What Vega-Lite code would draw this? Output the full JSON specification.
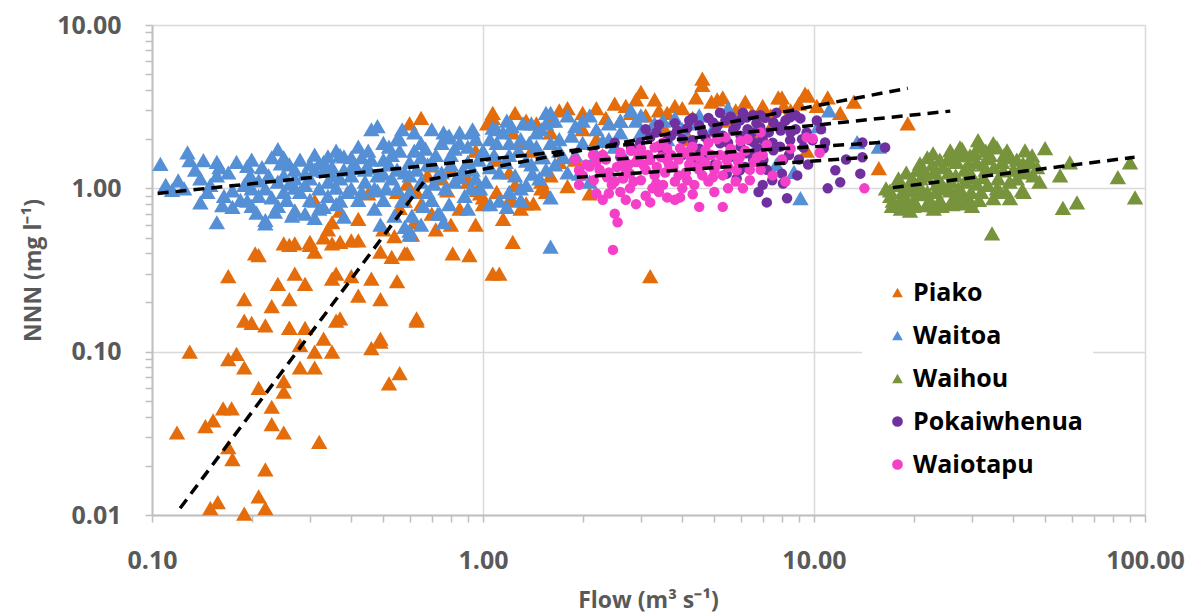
{
  "$schema": "https://vega.github.io/schema/vega-lite/v6.json",
  "width": 993,
  "height": 490,
  "autosize": {"type": "none"},
  "padding": {"left": 152, "top": 25, "right": 54, "bottom": 101},
  "background": "white",
  "config": {
    "font": "Open Sans",
    "view": {"stroke": null},
    "axis": {
      "labelFont": "Open Sans", "labelFontWeight": "bold", "labelFontSize": 25, "labelColor": "#595959",
      "titleFont": "Open Sans", "titleFontWeight": "bold", "titleFontSize": 23, "titleColor": "#595959",
      "domainColor": "#BFBFBF", "domainWidth": 2, "tickColor": "#BFBFBF", "tickWidth": 1.5, "tickSize": 7,
      "gridColor": "#D9D9D9", "gridWidth": 1.5, "labelOverlap": false, "labelFlush": false
    }
  },
  "datasets": {
    "trend": [
      {"fit": "Piako", "flow": 0.1216, "nnn": 0.011},
      {"fit": "Piako", "flow": 0.668, "nnn": 1.12},
      {"fit": "Piako", "flow": 19.2, "nnn": 4.1},
      {"fit": "Waitoa", "flow": 0.104, "nnn": 0.93},
      {"fit": "Waitoa", "flow": 25.8, "nnn": 2.97},
      {"fit": "Pokaiwhenua", "flow": 2.25, "nnn": 1.49},
      {"fit": "Pokaiwhenua", "flow": 16.1, "nnn": 1.91},
      {"fit": "Waiotapu", "flow": 1.92, "nnn": 1.17},
      {"fit": "Waiotapu", "flow": 14.5, "nnn": 1.55},
      {"fit": "Waihou", "flow": 17.3, "nnn": 1.01},
      {"fit": "Waihou", "flow": 93, "nnn": 1.55}
    ],
    "points": [
      {"river":"Piako","flow":0.119,"nnn":0.032},{"river":"Piako","flow":0.13,"nnn":0.10},{"river":"Piako","flow":0.145,"nnn":0.035},{"river":"Piako","flow":0.15,"nnn":0.011},{"river":"Piako","flow":0.158,"nnn":0.012},{"river":"Piako","flow":0.17,"nnn":0.09},{"river":"Piako","flow":0.18,"nnn":0.097},{"river":"Piako","flow":0.19,"nnn":0.08},{"river":"Piako","flow":0.19,"nnn":0.0102},{"river":"Piako","flow":0.21,"nnn":0.06},{"river":"Piako","flow":0.21,"nnn":0.013},{"river":"Piako","flow":0.22,"nnn":0.019},{"river":"Piako","flow":0.22,"nnn":0.011},{"river":"Piako","flow":0.23,"nnn":0.046},{"river":"Piako","flow":0.23,"nnn":0.036},{"river":"Piako","flow":0.25,"nnn":0.032},{"river":"Piako","flow":0.25,"nnn":0.066},{"river":"Piako","flow":0.26,"nnn":0.14},{"river":"Piako","flow":0.28,"nnn":0.11},{"river":"Piako","flow":0.28,"nnn":0.08},{"river":"Piako","flow":0.31,"nnn":0.08},{"river":"Piako","flow":0.31,"nnn":0.10},{"river":"Piako","flow":0.32,"nnn":0.028},{"river":"Piako","flow":0.33,"nnn":0.12},{"river":"Piako","flow":0.35,"nnn":0.10},{"river":"Piako","flow":0.36,"nnn":0.155},{"river":"Piako","flow":0.46,"nnn":0.105},{"river":"Piako","flow":0.49,"nnn":0.115},{"river":"Piako","flow":0.52,"nnn":0.064},{"river":"Piako","flow":0.56,"nnn":0.074},{"river":"Piako","flow":0.63,"nnn":0.155},{"river":"Piako","flow":0.153,"nnn":0.038},{"river":"Piako","flow":0.164,"nnn":0.045},{"river":"Piako","flow":0.174,"nnn":0.045},{"river":"Piako","flow":0.175,"nnn":0.022},{"river":"Piako","flow":0.17,"nnn":0.026},{"river":"Piako","flow":0.25,"nnn":0.057},
      {"river":"Piako","flow":0.205,"nnn":0.40},{"river":"Piako","flow":0.17,"nnn":0.29},{"river":"Piako","flow":0.19,"nnn":0.21},{"river":"Piako","flow":0.19,"nnn":0.155},{"river":"Piako","flow":0.20,"nnn":0.15},{"river":"Piako","flow":0.22,"nnn":0.145},{"river":"Piako","flow":0.23,"nnn":0.19},{"river":"Piako","flow":0.24,"nnn":0.26},{"river":"Piako","flow":0.26,"nnn":0.21},{"river":"Piako","flow":0.26,"nnn":0.14},{"river":"Piako","flow":0.25,"nnn":0.46},{"river":"Piako","flow":0.27,"nnn":0.46},{"river":"Piako","flow":0.27,"nnn":0.30},{"river":"Piako","flow":0.29,"nnn":0.26},{"river":"Piako","flow":0.29,"nnn":0.14},{"river":"Piako","flow":0.30,"nnn":0.47},{"river":"Piako","flow":0.31,"nnn":0.41},{"river":"Piako","flow":0.33,"nnn":0.50},{"river":"Piako","flow":0.35,"nnn":0.46},{"river":"Piako","flow":0.35,"nnn":0.28},{"river":"Piako","flow":0.36,"nnn":0.30},{"river":"Piako","flow":0.37,"nnn":0.16},{"river":"Piako","flow":0.37,"nnn":0.47},{"river":"Piako","flow":0.40,"nnn":0.29},{"river":"Piako","flow":0.42,"nnn":0.48},{"river":"Piako","flow":0.42,"nnn":0.22},{"river":"Piako","flow":0.46,"nnn":0.28},{"river":"Piako","flow":0.49,"nnn":0.21},{"river":"Piako","flow":0.49,"nnn":0.12},{"river":"Piako","flow":0.53,"nnn":0.38},{"river":"Piako","flow":0.55,"nnn":0.27},{"river":"Piako","flow":0.59,"nnn":0.40},{"river":"Piako","flow":0.63,"nnn":0.16},{"river":"Piako","flow":0.34,"nnn":0.56},{"river":"Piako","flow":0.50,"nnn":0.56},{"river":"Piako","flow":0.61,"nnn":0.52},{"river":"Piako","flow":0.72,"nnn":0.56},
      {"river":"Piako","flow":0.27,"nnn":0.73},{"river":"Piako","flow":0.60,"nnn":2.5},{"river":"Piako","flow":0.65,"nnn":2.7},{"river":"Piako","flow":0.35,"nnn":0.62},{"river":"Piako","flow":0.40,"nnn":0.48},{"river":"Piako","flow":0.26,"nnn":0.45},{"river":"Piako","flow":0.30,"nnn":0.45},{"river":"Piako","flow":0.21,"nnn":0.39},{"river":"Piako","flow":0.49,"nnn":0.41},{"river":"Piako","flow":0.54,"nnn":0.51},{"river":"Piako","flow":0.58,"nnn":0.40},{"river":"Piako","flow":0.81,"nnn":0.40},{"river":"Piako","flow":0.91,"nnn":0.39},{"river":"Piako","flow":0.58,"nnn":0.84},{"river":"Piako","flow":0.63,"nnn":0.95},{"river":"Piako","flow":1.07,"nnn":0.30},{"river":"Piako","flow":0.45,"nnn":0.93},{"river":"Piako","flow":0.98,"nnn":0.93},{"river":"Piako","flow":1.0,"nnn":0.8},
      {"river":"Piako","flow":0.59,"nnn":1.07},{"river":"Piako","flow":0.70,"nnn":1.38},{"river":"Piako","flow":0.96,"nnn":0.98},{"river":"Piako","flow":1.0,"nnn":0.88},{"river":"Piako","flow":1.23,"nnn":0.84},{"river":"Piako","flow":1.42,"nnn":0.81},{"river":"Piako","flow":1.07,"nnn":2.7},{"river":"Piako","flow":1.03,"nnn":2.5},{"river":"Piako","flow":1.23,"nnn":2.2},{"river":"Piako","flow":1.45,"nnn":2.5},{"river":"Piako","flow":1.07,"nnn":2.9},{"river":"Piako","flow":0.31,"nnn":0.84},{"river":"Piako","flow":0.56,"nnn":0.76},{"river":"Piako","flow":0.42,"nnn":0.65},{"river":"Piako","flow":0.37,"nnn":0.73},{"river":"Piako","flow":0.78,"nnn":0.97},{"river":"Piako","flow":0.65,"nnn":0.8},
      {"river":"Piako","flow":1.3,"nnn":1.9},{"river":"Piako","flow":1.6,"nnn":2.2},{"river":"Piako","flow":2.0,"nnn":2.3},{"river":"Piako","flow":2.3,"nnn":1.6},{"river":"Piako","flow":3.5,"nnn":2.4},{"river":"Piako","flow":4.2,"nnn":2.0},{"river":"Piako","flow":5.5,"nnn":2.6},{"river":"Piako","flow":6.8,"nnn":2.2},{"river":"Piako","flow":7.5,"nnn":2.5},{"river":"Piako","flow":1.1,"nnn":1.5},{"river":"Piako","flow":0.8,"nnn":1.3},{"river":"Piako","flow":0.9,"nnn":1.1},{"river":"Piako","flow":1.2,"nnn":1.25},{"river":"Piako","flow":1.7,"nnn":1.45},{"river":"Piako","flow":1.4,"nnn":1.7},{"river":"Piako","flow":0.85,"nnn":0.75},{"river":"Piako","flow":1.15,"nnn":0.65},{"river":"Piako","flow":0.62,"nnn":0.62},{"river":"Piako","flow":0.68,"nnn":1.2},{"river":"Piako","flow":0.95,"nnn":1.7},
      {"river":"Piako","flow":4.6,"nnn":4.7},{"river":"Piako","flow":4.6,"nnn":4.3},{"river":"Piako","flow":3.0,"nnn":3.9},{"river":"Piako","flow":2.5,"nnn":3.3},{"river":"Piako","flow":2.7,"nnn":3.2},{"river":"Piako","flow":1.8,"nnn":3.1},{"river":"Piako","flow":3.8,"nnn":3.2},{"river":"Piako","flow":4.0,"nnn":3.1},{"river":"Piako","flow":3.4,"nnn":3.0},{"river":"Piako","flow":4.9,"nnn":3.4},{"river":"Piako","flow":5.3,"nnn":3.6},{"river":"Piako","flow":6.2,"nnn":3.4},{"river":"Piako","flow":3.1,"nnn":2.8},{"river":"Piako","flow":2.6,"nnn":2.6},{"river":"Piako","flow":2.1,"nnn":0.93},{"river":"Piako","flow":1.5,"nnn":1.1},{"river":"Piako","flow":1.55,"nnn":0.95},{"river":"Piako","flow":1.8,"nnn":1.03},{"river":"Piako","flow":7.8,"nnn":3.6},{"river":"Piako","flow":9.4,"nnn":3.8},{"river":"Piako","flow":8.1,"nnn":3.2},{"river":"Piako","flow":9.0,"nnn":3.3},{"river":"Piako","flow":13.2,"nnn":3.4},{"river":"Piako","flow":19.2,"nnn":2.5},{"river":"Piako","flow":15.7,"nnn":1.33},{"river":"Piako","flow":7.4,"nnn":2.8},{"river":"Piako","flow":9.5,"nnn":1.7},{"river":"Piako","flow":1.23,"nnn":0.47},{"river":"Piako","flow":3.2,"nnn":0.29},{"river":"Piako","flow":1.12,"nnn":0.30},{"river":"Piako","flow":1.2,"nnn":0.85},{"river":"Piako","flow":1.35,"nnn":0.81},{"river":"Piako","flow":1.5,"nnn":1.0},{"river":"Piako","flow":2.9,"nnn":3.5},{"river":"Piako","flow":5.1,"nnn":3.5},{"river":"Piako","flow":8.0,"nnn":3.6},{"river":"Piako","flow":9.6,"nnn":3.7},
      {"river":"Piako","flow":1.25,"nnn":2.9},{"river":"Piako","flow":1.35,"nnn":2.6},{"river":"Piako","flow":1.6,"nnn":2.6},{"river":"Piako","flow":1.7,"nnn":3.0},{"river":"Piako","flow":2.0,"nnn":2.9},{"river":"Piako","flow":2.2,"nnn":3.1},{"river":"Piako","flow":2.35,"nnn":2.7},{"river":"Piako","flow":2.8,"nnn":2.9},{"river":"Piako","flow":3.3,"nnn":3.5},{"river":"Piako","flow":3.6,"nnn":2.9},{"river":"Piako","flow":4.3,"nnn":2.7},{"river":"Piako","flow":4.4,"nnn":3.6},{"river":"Piako","flow":5.8,"nnn":3.0},{"river":"Piako","flow":6.5,"nnn":2.9},{"river":"Piako","flow":7.0,"nnn":3.2},{"river":"Piako","flow":8.5,"nnn":3.0},{"river":"Piako","flow":10.2,"nnn":3.2},{"river":"Piako","flow":11,"nnn":3.6},{"river":"Piako","flow":12,"nnn":2.9},{"river":"Piako","flow":1.25,"nnn":1.05},{"river":"Piako","flow":1.6,"nnn":1.2},{"river":"Piako","flow":1.9,"nnn":1.5},{"river":"Piako","flow":2.2,"nnn":2.0},{"river":"Piako","flow":0.75,"nnn":1.15},{"river":"Piako","flow":0.55,"nnn":0.95},{"river":"Piako","flow":0.88,"nnn":1.25},{"river":"Piako","flow":1.1,"nnn":0.95},{"river":"Piako","flow":1.3,"nnn":0.75},{"river":"Piako","flow":0.7,"nnn":0.7},{"river":"Piako","flow":0.8,"nnn":0.6},{"river":"Piako","flow":0.95,"nnn":0.6},
      {"river":"Waitoa","flow":0.106,"nnn":1.41},{"river":"Waitoa","flow":0.12,"nnn":1.12},{"river":"Waitoa","flow":0.128,"nnn":1.66},{"river":"Waitoa","flow":0.13,"nnn":1.49},{"river":"Waitoa","flow":0.143,"nnn":1.49},{"river":"Waitoa","flow":0.157,"nnn":1.45},{"river":"Waitoa","flow":0.157,"nnn":1.2},{"river":"Waitoa","flow":0.147,"nnn":0.95},{"river":"Waitoa","flow":0.157,"nnn":0.62},{"river":"Waitoa","flow":0.163,"nnn":0.79},{"river":"Waitoa","flow":0.175,"nnn":0.97},{"river":"Waitoa","flow":0.175,"nnn":0.77},{"river":"Waitoa","flow":0.194,"nnn":1.37},{"river":"Waitoa","flow":0.198,"nnn":1.2},{"river":"Waitoa","flow":0.194,"nnn":0.84},{"river":"Waitoa","flow":0.207,"nnn":0.71},{"river":"Waitoa","flow":0.21,"nnn":1.12},{"river":"Waitoa","flow":0.22,"nnn":0.64},{"river":"Waitoa","flow":0.23,"nnn":1.55},{"river":"Waitoa","flow":0.24,"nnn":1.74},{"river":"Waitoa","flow":0.245,"nnn":1.42},{"river":"Waitoa","flow":0.23,"nnn":0.88},{"river":"Waitoa","flow":0.24,"nnn":0.78},{"river":"Waitoa","flow":0.26,"nnn":1.07},{"river":"Waitoa","flow":0.27,"nnn":1.01},{"river":"Waitoa","flow":0.29,"nnn":1.23},{"river":"Waitoa","flow":0.31,"nnn":1.61},{"river":"Waitoa","flow":0.29,"nnn":0.7},{"river":"Waitoa","flow":0.31,"nnn":0.66},{"river":"Waitoa","flow":0.33,"nnn":0.77},{"river":"Waitoa","flow":0.34,"nnn":1.57},{"river":"Waitoa","flow":0.38,"nnn":1.57},{"river":"Waitoa","flow":0.36,"nnn":1.01},{"river":"Waitoa","flow":0.38,"nnn":0.67},{"river":"Waitoa","flow":0.33,"nnn":1.28},
      {"river":"Waitoa","flow":0.46,"nnn":2.3},{"river":"Waitoa","flow":0.42,"nnn":1.8},{"river":"Waitoa","flow":0.56,"nnn":2.0},{"river":"Waitoa","flow":0.65,"nnn":1.9},{"river":"Waitoa","flow":0.78,"nnn":2.05},{"river":"Waitoa","flow":0.93,"nnn":2.2},{"river":"Waitoa","flow":1.1,"nnn":2.3},{"river":"Waitoa","flow":0.48,"nnn":0.97},{"river":"Waitoa","flow":0.57,"nnn":0.84},{"river":"Waitoa","flow":0.61,"nnn":0.68},{"river":"Waitoa","flow":0.73,"nnn":0.7},{"river":"Waitoa","flow":0.79,"nnn":0.8},{"river":"Waitoa","flow":0.53,"nnn":1.15},{"river":"Waitoa","flow":0.6,"nnn":0.52},{"river":"Waitoa","flow":0.37,"nnn":0.84},{"river":"Waitoa","flow":0.27,"nnn":0.73},{"river":"Waitoa","flow":0.22,"nnn":0.61},{"river":"Waitoa","flow":0.32,"nnn":1.42},{"river":"Waitoa","flow":0.40,"nnn":1.34},{"river":"Waitoa","flow":0.51,"nnn":1.0},{"river":"Waitoa","flow":0.37,"nnn":1.6},
      {"river":"Waitoa","flow":0.55,"nnn":2.0},{"river":"Waitoa","flow":0.76,"nnn":2.2},{"river":"Waitoa","flow":0.79,"nnn":2.1},{"river":"Waitoa","flow":0.93,"nnn":2.3},{"river":"Waitoa","flow":1.07,"nnn":2.35},{"river":"Waitoa","flow":1.18,"nnn":2.6},{"river":"Waitoa","flow":1.4,"nnn":2.5},{"river":"Waitoa","flow":1.6,"nnn":2.9},{"river":"Waitoa","flow":0.74,"nnn":0.7},{"river":"Waitoa","flow":0.6,"nnn":0.55},{"river":"Waitoa","flow":0.49,"nnn":0.6},{"river":"Waitoa","flow":1.12,"nnn":0.84},{"river":"Waitoa","flow":1.18,"nnn":0.77},{"river":"Waitoa","flow":0.93,"nnn":1.3},{"river":"Waitoa","flow":1.05,"nnn":1.35},{"river":"Waitoa","flow":1.35,"nnn":1.48},{"river":"Waitoa","flow":1.41,"nnn":1.23},{"river":"Waitoa","flow":1.52,"nnn":1.55},{"river":"Waitoa","flow":0.85,"nnn":1.17},{"river":"Waitoa","flow":0.71,"nnn":1.07},{"river":"Waitoa","flow":0.65,"nnn":1.55},{"river":"Waitoa","flow":0.5,"nnn":1.23},{"river":"Waitoa","flow":0.45,"nnn":1.34},
      {"river":"Waitoa","flow":0.44,"nnn":1.1},{"river":"Waitoa","flow":0.5,"nnn":1.5},{"river":"Waitoa","flow":0.55,"nnn":1.3},{"river":"Waitoa","flow":0.6,"nnn":1.2},{"river":"Waitoa","flow":0.62,"nnn":1.7},{"river":"Waitoa","flow":0.7,"nnn":1.45},{"river":"Waitoa","flow":0.75,"nnn":1.25},{"river":"Waitoa","flow":0.8,"nnn":1.6},{"river":"Waitoa","flow":0.85,"nnn":1.9},{"river":"Waitoa","flow":0.9,"nnn":1.45},{"river":"Waitoa","flow":0.95,"nnn":1.15},{"river":"Waitoa","flow":1.0,"nnn":1.7},{"river":"Waitoa","flow":1.1,"nnn":1.9},{"river":"Waitoa","flow":1.2,"nnn":1.6},{"river":"Waitoa","flow":1.25,"nnn":1.2},{"river":"Waitoa","flow":1.3,"nnn":2.0},{"river":"Waitoa","flow":1.45,"nnn":1.8},{"river":"Waitoa","flow":1.35,"nnn":1.05},{"river":"Waitoa","flow":1.2,"nnn":0.95},{"river":"Waitoa","flow":0.98,"nnn":1.0},{"river":"Waitoa","flow":0.88,"nnn":0.9},{"river":"Waitoa","flow":0.68,"nnn":0.95},{"river":"Waitoa","flow":0.45,"nnn":1.7},{"river":"Waitoa","flow":0.52,"nnn":1.8},{"river":"Waitoa","flow":0.27,"nnn":1.3},{"river":"Waitoa","flow":0.2,"nnn":1.0},{"river":"Waitoa","flow":0.17,"nnn":1.25},{"river":"Waitoa","flow":0.14,"nnn":1.15},{"river":"Waitoa","flow":0.25,"nnn":0.95},{"river":"Waitoa","flow":0.3,"nnn":1.4},{"river":"Waitoa","flow":0.35,"nnn":1.2},{"river":"Waitoa","flow":0.4,"nnn":1.0},{"river":"Waitoa","flow":0.42,"nnn":0.85},{"river":"Waitoa","flow":0.47,"nnn":0.75},{"river":"Waitoa","flow":0.54,"nnn":0.68},{"river":"Waitoa","flow":0.65,"nnn":0.6},{"river":"Waitoa","flow":0.7,"nnn":2.3},{"river":"Waitoa","flow":0.48,"nnn":2.4},{"river":"Waitoa","flow":0.57,"nnn":2.3},{"river":"Waitoa","flow":0.43,"nnn":1.55},
      {"river":"Waitoa","flow":0.11,"nnn":1.05},{"river":"Waitoa","flow":0.115,"nnn":0.98},{"river":"Waitoa","flow":0.125,"nnn":1.0},{"river":"Waitoa","flow":0.135,"nnn":1.3},{"river":"Waitoa","flow":0.14,"nnn":0.82},{"river":"Waitoa","flow":0.15,"nnn":1.05},{"river":"Waitoa","flow":0.16,"nnn":1.35},{"river":"Waitoa","flow":0.165,"nnn":0.9},{"river":"Waitoa","flow":0.18,"nnn":1.45},{"river":"Waitoa","flow":0.185,"nnn":0.85},{"river":"Waitoa","flow":0.19,"nnn":1.05},{"river":"Waitoa","flow":0.2,"nnn":1.5},{"river":"Waitoa","flow":0.2,"nnn":0.78},
      {"river":"Waitoa","flow":0.21,"nnn":0.9},{"river":"Waitoa","flow":0.215,"nnn":1.35},{"river":"Waitoa","flow":0.22,"nnn":1.0},{"river":"Waitoa","flow":0.225,"nnn":1.2},{"river":"Waitoa","flow":0.235,"nnn":0.72},{"river":"Waitoa","flow":0.24,"nnn":1.1},{"river":"Waitoa","flow":0.25,"nnn":1.55},{"river":"Waitoa","flow":0.25,"nnn":1.2},{"river":"Waitoa","flow":0.255,"nnn":0.85},{"river":"Waitoa","flow":0.26,"nnn":1.4},{"river":"Waitoa","flow":0.265,"nnn":0.68},{"river":"Waitoa","flow":0.27,"nnn":1.15},{"river":"Waitoa","flow":0.28,"nnn":0.95},{"river":"Waitoa","flow":0.28,"nnn":1.5},{"river":"Waitoa","flow":0.29,"nnn":1.05},{"river":"Waitoa","flow":0.3,"nnn":0.85},{"river":"Waitoa","flow":0.3,"nnn":1.15},{"river":"Waitoa","flow":0.31,"nnn":1.3},{"river":"Waitoa","flow":0.32,"nnn":1.0},{"river":"Waitoa","flow":0.32,"nnn":0.75},{"river":"Waitoa","flow":0.33,"nnn":1.45},{"river":"Waitoa","flow":0.34,"nnn":1.1},{"river":"Waitoa","flow":0.34,"nnn":0.9},{"river":"Waitoa","flow":0.35,"nnn":1.35},{"river":"Waitoa","flow":0.36,"nnn":0.8},{"river":"Waitoa","flow":0.36,"nnn":1.7},{"river":"Waitoa","flow":0.37,"nnn":1.15},{"river":"Waitoa","flow":0.38,"nnn":1.3},{"river":"Waitoa","flow":0.39,"nnn":0.95},{"river":"Waitoa","flow":0.4,"nnn":1.55},{"river":"Waitoa","flow":0.4,"nnn":1.2},
      {"river":"Waitoa","flow":0.41,"nnn":1.4},{"river":"Waitoa","flow":0.43,"nnn":0.95},{"river":"Waitoa","flow":0.44,"nnn":1.3},{"river":"Waitoa","flow":0.46,"nnn":1.5},{"river":"Waitoa","flow":0.47,"nnn":1.0},{"river":"Waitoa","flow":0.48,"nnn":1.2},{"river":"Waitoa","flow":0.5,"nnn":1.9},{"river":"Waitoa","flow":0.5,"nnn":0.85},{"river":"Waitoa","flow":0.52,"nnn":1.4},{"river":"Waitoa","flow":0.53,"nnn":1.6},{"river":"Waitoa","flow":0.55,"nnn":1.0},{"river":"Waitoa","flow":0.56,"nnn":1.7},{"river":"Waitoa","flow":0.58,"nnn":1.25},{"river":"Waitoa","flow":0.6,"nnn":1.45},{"river":"Waitoa","flow":0.6,"nnn":0.95},{"river":"Waitoa","flow":0.62,"nnn":2.2},{"river":"Waitoa","flow":0.63,"nnn":1.3},{"river":"Waitoa","flow":0.65,"nnn":1.1},{"river":"Waitoa","flow":0.67,"nnn":1.75},{"river":"Waitoa","flow":0.68,"nnn":1.4},{"river":"Waitoa","flow":0.7,"nnn":0.85},{"river":"Waitoa","flow":0.72,"nnn":1.6},{"river":"Waitoa","flow":0.73,"nnn":1.2},{"river":"Waitoa","flow":0.75,"nnn":1.9},{"river":"Waitoa","flow":0.77,"nnn":1.0},{"river":"Waitoa","flow":0.8,"nnn":1.4},{"river":"Waitoa","flow":0.82,"nnn":1.75},{"river":"Waitoa","flow":0.82,"nnn":1.1},{"river":"Waitoa","flow":0.85,"nnn":2.2},{"river":"Waitoa","flow":0.87,"nnn":1.3},{"river":"Waitoa","flow":0.9,"nnn":1.8},{"river":"Waitoa","flow":0.92,"nnn":1.0},{"river":"Waitoa","flow":0.95,"nnn":2.0},{"river":"Waitoa","flow":0.97,"nnn":1.5},
      {"river":"Waitoa","flow":1.02,"nnn":1.1},{"river":"Waitoa","flow":1.05,"nnn":2.0},{"river":"Waitoa","flow":1.08,"nnn":1.6},{"river":"Waitoa","flow":1.12,"nnn":1.25},{"river":"Waitoa","flow":1.15,"nnn":2.2},{"river":"Waitoa","flow":1.17,"nnn":1.45},{"river":"Waitoa","flow":1.2,"nnn":1.9},{"river":"Waitoa","flow":1.22,"nnn":2.4},{"river":"Waitoa","flow":1.28,"nnn":1.7},{"river":"Waitoa","flow":1.3,"nnn":1.0},{"river":"Waitoa","flow":1.32,"nnn":2.5},{"river":"Waitoa","flow":1.38,"nnn":1.9},{"river":"Waitoa","flow":1.4,"nnn":1.4},{"river":"Waitoa","flow":1.45,"nnn":2.2},{"river":"Waitoa","flow":1.48,"nnn":1.15},{"river":"Waitoa","flow":1.55,"nnn":2.5},{"river":"Waitoa","flow":1.6,"nnn":1.9},{"river":"Waitoa","flow":1.65,"nnn":1.4},{"river":"Waitoa","flow":1.65,"nnn":2.6},{"river":"Waitoa","flow":1.75,"nnn":1.55},{"river":"Waitoa","flow":1.85,"nnn":2.1},{"river":"Waitoa","flow":1.9,"nnn":1.6},{"river":"Waitoa","flow":2.0,"nnn":2.6},{"river":"Waitoa","flow":2.2,"nnn":2.3},{"river":"Waitoa","flow":2.3,"nnn":1.95},{"river":"Waitoa","flow":2.6,"nnn":2.6},{"river":"Waitoa","flow":3.0,"nnn":2.8},{"river":"Waitoa","flow":3.2,"nnn":2.3},{"river":"Waitoa","flow":3.5,"nnn":2.6},{"river":"Waitoa","flow":4.2,"nnn":2.5},{"river":"Waitoa","flow":0.66,"nnn":0.78},{"river":"Waitoa","flow":0.9,"nnn":0.75},{"river":"Waitoa","flow":1.05,"nnn":0.8},{"river":"Waitoa","flow":1.3,"nnn":0.85},{"river":"Waitoa","flow":0.58,"nnn":0.58},{"river":"Waitoa","flow":0.76,"nnn":0.62},
      {"river":"Waitoa","flow":1.55,"nnn":2.9},{"river":"Waitoa","flow":1.8,"nnn":2.8},{"river":"Waitoa","flow":2.1,"nnn":2.8},{"river":"Waitoa","flow":1.9,"nnn":2.4},{"river":"Waitoa","flow":2.4,"nnn":2.5},{"river":"Waitoa","flow":2.8,"nnn":3.0},{"river":"Waitoa","flow":2.9,"nnn":2.6},{"river":"Waitoa","flow":3.8,"nnn":2.7},{"river":"Waitoa","flow":4.5,"nnn":2.8},{"river":"Waitoa","flow":5.5,"nnn":3.1},{"river":"Waitoa","flow":1.5,"nnn":2.3},{"river":"Waitoa","flow":1.7,"nnn":2.0},{"river":"Waitoa","flow":1.55,"nnn":1.3},{"river":"Waitoa","flow":1.6,"nnn":0.88},{"river":"Waitoa","flow":1.5,"nnn":1.55},{"river":"Waitoa","flow":1.95,"nnn":1.23},{"river":"Waitoa","flow":2.4,"nnn":2.0},{"river":"Waitoa","flow":2.6,"nnn":2.2},{"river":"Waitoa","flow":11.1,"nnn":3.0},{"river":"Waitoa","flow":10.3,"nnn":2.4},{"river":"Waitoa","flow":13.5,"nnn":1.92},{"river":"Waitoa","flow":15.7,"nnn":1.8},{"river":"Waitoa","flow":9.1,"nnn":0.87},{"river":"Waitoa","flow":6.0,"nnn":2.8},{"river":"Waitoa","flow":7.7,"nnn":1.4},{"river":"Waitoa","flow":8.7,"nnn":1.26},{"river":"Waitoa","flow":1.6,"nnn":0.44},{"river":"Waitoa","flow":1.7,"nnn":1.7},{"river":"Waitoa","flow":2.0,"nnn":1.9},{"river":"Waitoa","flow":2.2,"nnn":1.6},{"river":"Waitoa","flow":2.5,"nnn":1.8},{"river":"Waitoa","flow":3.0,"nnn":2.2},{"river":"Waitoa","flow":3.3,"nnn":2.5},{"river":"Waitoa","flow":3.6,"nnn":2.0},{"river":"Waitoa","flow":4.0,"nnn":2.3},{"river":"Waitoa","flow":5.0,"nnn":2.4},{"river":"Waitoa","flow":2.7,"nnn":1.5},{"river":"Waitoa","flow":1.8,"nnn":1.25},{"river":"Waitoa","flow":2.1,"nnn":1.1},
      {"river":"Waihou","flow":31.3,"nnn":1.97},{"river":"Waihou","flow":35.7,"nnn":1.78},{"river":"Waihou","flow":38.3,"nnn":1.71},{"river":"Waihou","flow":43.4,"nnn":1.71},{"river":"Waihou","flow":45.6,"nnn":1.59},{"river":"Waihou","flow":49.9,"nnn":1.76},{"river":"Waihou","flow":59.3,"nnn":1.44},{"river":"Waihou","flow":55.4,"nnn":1.2},{"river":"Waihou","flow":82.8,"nnn":1.17},{"river":"Waihou","flow":90.1,"nnn":1.44},{"river":"Waihou","flow":93.3,"nnn":0.88},{"river":"Waihou","flow":56.5,"nnn":0.76},{"river":"Waihou","flow":62.3,"nnn":0.82},{"river":"Waihou","flow":42.5,"nnn":0.97},{"river":"Waihou","flow":39.1,"nnn":0.87},{"river":"Waihou","flow":34.8,"nnn":0.87},{"river":"Waihou","flow":34.5,"nnn":0.53},{"river":"Waihou","flow":35.7,"nnn":1.0},{"river":"Waihou","flow":29.6,"nnn":0.84},{"river":"Waihou","flow":25.8,"nnn":0.81},{"river":"Waihou","flow":22.9,"nnn":0.79},{"river":"Waihou","flow":19.5,"nnn":0.73},{"river":"Waihou","flow":17.3,"nnn":0.84},{"river":"Waihou","flow":16.97,"nnn":0.97},{"river":"Waihou","flow":18.2,"nnn":1.1},{"river":"Waihou","flow":20.9,"nnn":1.42},{"river":"Waihou","flow":22.9,"nnn":1.64},{"river":"Waihou","flow":25.8,"nnn":1.71},{"river":"Waihou","flow":27.6,"nnn":1.78},{"river":"Waihou","flow":29.6,"nnn":1.59},{"river":"Waihou","flow":33.3,"nnn":1.53},{"river":"Waihou","flow":34.8,"nnn":1.89},{"river":"Waihou","flow":39.1,"nnn":1.55},{"river":"Waihou","flow":42.8,"nnn":1.42},{"river":"Waihou","flow":29.0,"nnn":1.17},{"river":"Waihou","flow":32.4,"nnn":1.17},{"river":"Waihou","flow":23.5,"nnn":1.07},{"river":"Waihou","flow":20.5,"nnn":0.97},{"river":"Waihou","flow":18.2,"nnn":0.84},{"river":"Waihou","flow":19.1,"nnn":0.76},{"river":"Waihou","flow":21.9,"nnn":0.79},{"river":"Waihou","flow":27.6,"nnn":0.81},{"river":"Waihou","flow":25.8,"nnn":0.97},{"river":"Waihou","flow":31.0,"nnn":1.07},{"river":"Waihou","flow":37.3,"nnn":1.29},{"river":"Waihou","flow":41.0,"nnn":1.15},{"river":"Waihou","flow":47.2,"nnn":1.35},
      {"river":"Waihou","flow":17.5,"nnn":0.8},{"river":"Waihou","flow":18.5,"nnn":0.95},{"river":"Waihou","flow":19.5,"nnn":1.05},{"river":"Waihou","flow":20,"nnn":0.85},{"river":"Waihou","flow":21,"nnn":1.15},{"river":"Waihou","flow":22,"nnn":0.95},{"river":"Waihou","flow":23,"nnn":1.25},{"river":"Waihou","flow":24,"nnn":0.85},{"river":"Waihou","flow":24.5,"nnn":1.35},{"river":"Waihou","flow":26,"nnn":1.1},{"river":"Waihou","flow":27,"nnn":1.45},{"river":"Waihou","flow":28,"nnn":0.95},{"river":"Waihou","flow":28.5,"nnn":1.3},{"river":"Waihou","flow":30,"nnn":1.2},{"river":"Waihou","flow":31,"nnn":1.45},{"river":"Waihou","flow":32,"nnn":0.95},{"river":"Waihou","flow":33,"nnn":1.3},{"river":"Waihou","flow":34,"nnn":1.6},{"river":"Waihou","flow":36,"nnn":1.15},{"river":"Waihou","flow":37,"nnn":1.45},{"river":"Waihou","flow":38,"nnn":0.95},{"river":"Waihou","flow":40,"nnn":1.3},{"river":"Waihou","flow":44,"nnn":1.25},{"river":"Waihou","flow":18,"nnn":1.15},{"river":"Waihou","flow":21.5,"nnn":1.3},{"river":"Waihou","flow":26.5,"nnn":0.88},{"river":"Waihou","flow":30,"nnn":0.78},{"river":"Waihou","flow":23,"nnn":0.75},{"river":"Waihou","flow":20,"nnn":0.78},{"river":"Waihou","flow":17,"nnn":0.9},{"river":"Waihou","flow":16.5,"nnn":1.0},{"river":"Waihou","flow":19,"nnn":1.25},{"river":"Waihou","flow":45,"nnn":1.45},{"river":"Waihou","flow":48,"nnn":1.1},
      {"river":"Waihou","flow":17.2,"nnn":0.78},{"river":"Waihou","flow":17.8,"nnn":1.05},{"river":"Waihou","flow":18.3,"nnn":0.75},{"river":"Waihou","flow":18.8,"nnn":0.88},{"river":"Waihou","flow":19.3,"nnn":0.98},{"river":"Waihou","flow":19.8,"nnn":1.15},{"river":"Waihou","flow":20.3,"nnn":0.8},{"river":"Waihou","flow":20.8,"nnn":1.05},{"river":"Waihou","flow":21.3,"nnn":0.92},{"river":"Waihou","flow":21.8,"nnn":1.2},{"river":"Waihou","flow":22.3,"nnn":0.85},{"river":"Waihou","flow":22.8,"nnn":1.4},{"river":"Waihou","flow":23.3,"nnn":0.95},{"river":"Waihou","flow":23.8,"nnn":1.15},{"river":"Waihou","flow":24.3,"nnn":0.78},{"river":"Waihou","flow":24.8,"nnn":1.0},{"river":"Waihou","flow":25.3,"nnn":1.5},{"river":"Waihou","flow":25.5,"nnn":1.25},{"river":"Waihou","flow":26.2,"nnn":0.8},{"river":"Waihou","flow":26.8,"nnn":1.2},{"river":"Waihou","flow":27.3,"nnn":1.0},{"river":"Waihou","flow":27.8,"nnn":1.6},{"river":"Waihou","flow":28.3,"nnn":0.85},{"river":"Waihou","flow":28.8,"nnn":1.1},{"river":"Waihou","flow":29.3,"nnn":1.4},{"river":"Waihou","flow":29.8,"nnn":0.95},{"river":"Waihou","flow":30.5,"nnn":1.65},{"river":"Waihou","flow":31.5,"nnn":0.85},{"river":"Waihou","flow":32.5,"nnn":1.4},{"river":"Waihou","flow":33.5,"nnn":1.05},{"river":"Waihou","flow":35,"nnn":1.35},{"river":"Waihou","flow":36.5,"nnn":0.95},{"river":"Waihou","flow":37.5,"nnn":1.6},{"river":"Waihou","flow":39,"nnn":1.1},{"river":"Waihou","flow":41,"nnn":1.5},{"river":"Waihou","flow":42,"nnn":1.3},{"river":"Waihou","flow":46,"nnn":1.2},{"river":"Waihou","flow":43,"nnn":0.95},{"river":"Waihou","flow":26,"nnn":1.6},{"river":"Waihou","flow":24,"nnn":1.5},{"river":"Waihou","flow":22,"nnn":1.55},{"river":"Waihou","flow":20.5,"nnn":1.3},{"river":"Waihou","flow":28,"nnn":1.75},{"river":"Waihou","flow":31.5,"nnn":1.8},{"river":"Waihou","flow":33,"nnn":1.7},
      {"river":"Pokaiwhenua","flow":6.55,"nnn":2.8},{"river":"Pokaiwhenua","flow":5.97,"nnn":2.6},{"river":"Pokaiwhenua","flow":5.7,"nnn":2.26},{"river":"Pokaiwhenua","flow":4.95,"nnn":2.53},{"river":"Pokaiwhenua","flow":4.5,"nnn":2.43},{"river":"Pokaiwhenua","flow":4.14,"nnn":2.33},{"river":"Pokaiwhenua","flow":3.86,"nnn":2.26},{"river":"Pokaiwhenua","flow":3.34,"nnn":2.2},{"river":"Pokaiwhenua","flow":3.2,"nnn":2.05},{"river":"Pokaiwhenua","flow":2.98,"nnn":1.91},{"river":"Pokaiwhenua","flow":2.8,"nnn":1.78},{"river":"Pokaiwhenua","flow":6.27,"nnn":1.64},{"river":"Pokaiwhenua","flow":5.97,"nnn":1.29},{"river":"Pokaiwhenua","flow":5.57,"nnn":1.55},{"river":"Pokaiwhenua","flow":5.45,"nnn":1.23},{"river":"Pokaiwhenua","flow":5.84,"nnn":1.15},{"river":"Pokaiwhenua","flow":6.55,"nnn":1.49},{"river":"Pokaiwhenua","flow":4.7,"nnn":2.05},{"river":"Pokaiwhenua","flow":5.2,"nnn":1.89},{"river":"Pokaiwhenua","flow":4.3,"nnn":1.97},{"river":"Pokaiwhenua","flow":3.6,"nnn":1.97},
      {"river":"Pokaiwhenua","flow":6.27,"nnn":2.72},{"river":"Pokaiwhenua","flow":6.88,"nnn":2.8},{"river":"Pokaiwhenua","flow":7.54,"nnn":2.53},{"river":"Pokaiwhenua","flow":8.47,"nnn":2.72},{"river":"Pokaiwhenua","flow":9.1,"nnn":2.68},{"river":"Pokaiwhenua","flow":6.88,"nnn":2.37},{"river":"Pokaiwhenua","flow":7.93,"nnn":2.26},{"river":"Pokaiwhenua","flow":6.4,"nnn":1.97},{"river":"Pokaiwhenua","flow":6.55,"nnn":1.64},{"river":"Pokaiwhenua","flow":7.54,"nnn":1.71},{"river":"Pokaiwhenua","flow":8.47,"nnn":1.97},{"river":"Pokaiwhenua","flow":8.06,"nnn":1.49},{"river":"Pokaiwhenua","flow":7.03,"nnn":1.49},{"river":"Pokaiwhenua","flow":8.0,"nnn":1.23},{"river":"Pokaiwhenua","flow":7.48,"nnn":1.12},{"river":"Pokaiwhenua","flow":8.06,"nnn":1.07},{"river":"Pokaiwhenua","flow":8.29,"nnn":0.87},{"river":"Pokaiwhenua","flow":7.2,"nnn":0.82},{"river":"Pokaiwhenua","flow":10.8,"nnn":1.91},{"river":"Pokaiwhenua","flow":11.6,"nnn":1.29},{"river":"Pokaiwhenua","flow":12.0,"nnn":1.09},{"river":"Pokaiwhenua","flow":11.0,"nnn":1.0},{"river":"Pokaiwhenua","flow":14.0,"nnn":1.55},{"river":"Pokaiwhenua","flow":13.8,"nnn":1.23},{"river":"Pokaiwhenua","flow":16.4,"nnn":1.78},{"river":"Pokaiwhenua","flow":14.0,"nnn":1.91},{"river":"Pokaiwhenua","flow":9.3,"nnn":1.78},{"river":"Pokaiwhenua","flow":9.9,"nnn":1.97},{"river":"Pokaiwhenua","flow":10.7,"nnn":1.76},
      {"river":"Pokaiwhenua","flow":4.0,"nnn":1.6},{"river":"Pokaiwhenua","flow":4.5,"nnn":1.75},{"river":"Pokaiwhenua","flow":5.0,"nnn":1.4},{"river":"Pokaiwhenua","flow":5.5,"nnn":1.9},{"river":"Pokaiwhenua","flow":6.0,"nnn":2.1},{"river":"Pokaiwhenua","flow":6.5,"nnn":2.2},{"river":"Pokaiwhenua","flow":7.0,"nnn":2.0},{"river":"Pokaiwhenua","flow":7.5,"nnn":1.9},{"river":"Pokaiwhenua","flow":8.0,"nnn":2.4},{"river":"Pokaiwhenua","flow":8.8,"nnn":2.3},{"river":"Pokaiwhenua","flow":3.5,"nnn":1.7},{"river":"Pokaiwhenua","flow":3.0,"nnn":1.6},{"river":"Pokaiwhenua","flow":2.6,"nnn":1.55},{"river":"Pokaiwhenua","flow":2.5,"nnn":1.9},{"river":"Pokaiwhenua","flow":3.8,"nnn":2.5},{"river":"Pokaiwhenua","flow":4.3,"nnn":2.7},{"river":"Pokaiwhenua","flow":5.2,"nnn":2.9},{"river":"Pokaiwhenua","flow":5.6,"nnn":2.75},{"river":"Pokaiwhenua","flow":7.2,"nnn":1.3},{"river":"Pokaiwhenua","flow":6.2,"nnn":1.35},{"river":"Pokaiwhenua","flow":9.0,"nnn":1.5},{"river":"Pokaiwhenua","flow":9.5,"nnn":2.2},{"river":"Pokaiwhenua","flow":10.2,"nnn":2.6},{"river":"Pokaiwhenua","flow":5.0,"nnn":2.2},{"river":"Pokaiwhenua","flow":6.8,"nnn":1.75},
      {"river":"Pokaiwhenua","flow":3.1,"nnn":2.3},{"river":"Pokaiwhenua","flow":3.4,"nnn":2.45},{"river":"Pokaiwhenua","flow":3.7,"nnn":2.1},{"river":"Pokaiwhenua","flow":4.0,"nnn":2.0},{"river":"Pokaiwhenua","flow":4.2,"nnn":2.6},{"river":"Pokaiwhenua","flow":4.6,"nnn":2.2},{"river":"Pokaiwhenua","flow":4.8,"nnn":2.7},{"river":"Pokaiwhenua","flow":5.1,"nnn":2.4},{"river":"Pokaiwhenua","flow":5.3,"nnn":2.1},{"river":"Pokaiwhenua","flow":5.4,"nnn":2.6},{"river":"Pokaiwhenua","flow":5.8,"nnn":2.4},{"river":"Pokaiwhenua","flow":6.1,"nnn":2.9},{"river":"Pokaiwhenua","flow":6.3,"nnn":2.3},{"river":"Pokaiwhenua","flow":6.7,"nnn":2.5},{"river":"Pokaiwhenua","flow":7.1,"nnn":2.7},{"river":"Pokaiwhenua","flow":7.3,"nnn":2.2},{"river":"Pokaiwhenua","flow":7.7,"nnn":2.9},{"river":"Pokaiwhenua","flow":8.2,"nnn":2.6},{"river":"Pokaiwhenua","flow":8.5,"nnn":2.2},{"river":"Pokaiwhenua","flow":8.8,"nnn":2.8},{"river":"Pokaiwhenua","flow":6.0,"nnn":1.8},{"river":"Pokaiwhenua","flow":6.6,"nnn":1.9},{"river":"Pokaiwhenua","flow":7.9,"nnn":1.8},{"river":"Pokaiwhenua","flow":5.5,"nnn":1.6},{"river":"Pokaiwhenua","flow":4.8,"nnn":1.6},{"river":"Pokaiwhenua","flow":8.4,"nnn":1.6},{"river":"Pokaiwhenua","flow":9.2,"nnn":2.0},{"river":"Pokaiwhenua","flow":10.5,"nnn":2.3},{"river":"Pokaiwhenua","flow":9.6,"nnn":1.4},{"river":"Pokaiwhenua","flow":12.5,"nnn":1.5},{"river":"Pokaiwhenua","flow":8.9,"nnn":1.2},{"river":"Pokaiwhenua","flow":7.0,"nnn":1.05},{"river":"Pokaiwhenua","flow":6.8,"nnn":0.95},{"river":"Pokaiwhenua","flow":4.4,"nnn":1.5},
      {"river":"Waiotapu","flow":1.9,"nnn":1.5},{"river":"Waiotapu","flow":1.95,"nnn":1.29},{"river":"Waiotapu","flow":2.1,"nnn":1.36},{"river":"Waiotapu","flow":2.2,"nnn":0.93},{"river":"Waiotapu","flow":2.4,"nnn":0.93},{"river":"Waiotapu","flow":2.5,"nnn":0.7},{"river":"Waiotapu","flow":2.55,"nnn":0.62},{"river":"Waiotapu","flow":2.37,"nnn":1.17},{"river":"Waiotapu","flow":2.65,"nnn":1.49},{"river":"Waiotapu","flow":3.0,"nnn":1.64},{"river":"Waiotapu","flow":3.3,"nnn":1.78},{"river":"Waiotapu","flow":3.4,"nnn":1.82},{"river":"Waiotapu","flow":3.94,"nnn":1.76},{"river":"Waiotapu","flow":4.24,"nnn":1.55},{"river":"Waiotapu","flow":4.7,"nnn":1.71},{"river":"Waiotapu","flow":5.1,"nnn":2.0},{"river":"Waiotapu","flow":5.4,"nnn":2.05},{"river":"Waiotapu","flow":6.0,"nnn":1.95},{"river":"Waiotapu","flow":6.4,"nnn":1.3},{"river":"Waiotapu","flow":3.0,"nnn":1.12},{"river":"Waiotapu","flow":3.2,"nnn":0.82},{"river":"Waiotapu","flow":3.6,"nnn":0.88},{"river":"Waiotapu","flow":3.94,"nnn":0.88},{"river":"Waiotapu","flow":4.5,"nnn":0.77},{"river":"Waiotapu","flow":5.3,"nnn":0.77},{"river":"Waiotapu","flow":2.78,"nnn":1.0},{"river":"Waiotapu","flow":3.34,"nnn":1.07},{"river":"Waiotapu","flow":4.14,"nnn":1.12},{"river":"Waiotapu","flow":4.95,"nnn":1.17},{"river":"Waiotapu","flow":5.84,"nnn":1.29},{"river":"Waiotapu","flow":2.16,"nnn":1.12},{"river":"Waiotapu","flow":3.76,"nnn":1.35},{"river":"Waiotapu","flow":4.4,"nnn":1.35},{"river":"Waiotapu","flow":2.54,"nnn":1.35},{"river":"Waiotapu","flow":3.2,"nnn":1.49},{"river":"Waiotapu","flow":2.78,"nnn":1.23},{"river":"Waiotapu","flow":3.6,"nnn":1.49},{"river":"Waiotapu","flow":5.45,"nnn":1.49},{"river":"Waiotapu","flow":4.02,"nnn":1.64},{"river":"Waiotapu","flow":4.7,"nnn":1.42},
      {"river":"Waiotapu","flow":6.3,"nnn":2.0},{"river":"Waiotapu","flow":6.9,"nnn":2.2},{"river":"Waiotapu","flow":9.5,"nnn":2.05},{"river":"Waiotapu","flow":10.4,"nnn":1.65},{"river":"Waiotapu","flow":14.2,"nnn":1.0},{"river":"Waiotapu","flow":6.4,"nnn":1.12},{"river":"Waiotapu","flow":6.9,"nnn":1.3},{"river":"Waiotapu","flow":5.97,"nnn":1.55},{"river":"Waiotapu","flow":6.73,"nnn":1.55},{"river":"Waiotapu","flow":9.9,"nnn":2.02},{"river":"Waiotapu","flow":2.47,"nnn":0.42},
      {"river":"Waiotapu","flow":2.0,"nnn":1.2},{"river":"Waiotapu","flow":2.2,"nnn":1.45},{"river":"Waiotapu","flow":2.3,"nnn":1.6},{"river":"Waiotapu","flow":2.5,"nnn":1.1},{"river":"Waiotapu","flow":2.7,"nnn":1.3},{"river":"Waiotapu","flow":2.9,"nnn":1.45},{"river":"Waiotapu","flow":3.1,"nnn":1.3},{"river":"Waiotapu","flow":3.3,"nnn":1.2},{"river":"Waiotapu","flow":3.5,"nnn":1.05},{"river":"Waiotapu","flow":3.7,"nnn":1.6},{"river":"Waiotapu","flow":3.9,"nnn":1.2},{"river":"Waiotapu","flow":4.2,"nnn":1.4},{"river":"Waiotapu","flow":4.5,"nnn":1.55},{"river":"Waiotapu","flow":4.6,"nnn":1.2},{"river":"Waiotapu","flow":4.8,"nnn":1.9},{"river":"Waiotapu","flow":5.0,"nnn":1.3},{"river":"Waiotapu","flow":5.2,"nnn":1.6},{"river":"Waiotapu","flow":5.6,"nnn":1.75},{"river":"Waiotapu","flow":5.8,"nnn":1.1},{"river":"Waiotapu","flow":2.6,"nnn":0.95},{"river":"Waiotapu","flow":2.9,"nnn":0.8},{"river":"Waiotapu","flow":3.4,"nnn":0.95},{"river":"Waiotapu","flow":4.0,"nnn":1.0},{"river":"Waiotapu","flow":2.4,"nnn":1.25},{"river":"Waiotapu","flow":1.95,"nnn":1.05},{"river":"Waiotapu","flow":3.0,"nnn":1.75},{"river":"Waiotapu","flow":3.5,"nnn":1.9},{"river":"Waiotapu","flow":4.3,"nnn":1.8},{"river":"Waiotapu","flow":7.5,"nnn":1.2},{"river":"Waiotapu","flow":8.0,"nnn":1.5},{"river":"Waiotapu","flow":8.5,"nnn":1.75},{"river":"Waiotapu","flow":8.2,"nnn":1.1},
      {"river":"Waiotapu","flow":2.05,"nnn":1.4},{"river":"Waiotapu","flow":2.15,"nnn":1.6},{"river":"Waiotapu","flow":2.25,"nnn":1.3},{"river":"Waiotapu","flow":2.35,"nnn":1.5},{"river":"Waiotapu","flow":2.45,"nnn":1.05},{"river":"Waiotapu","flow":2.6,"nnn":1.65},{"river":"Waiotapu","flow":2.65,"nnn":1.15},{"river":"Waiotapu","flow":2.75,"nnn":1.4},{"river":"Waiotapu","flow":2.85,"nnn":1.1},{"river":"Waiotapu","flow":2.95,"nnn":1.55},{"river":"Waiotapu","flow":3.05,"nnn":1.4},{"river":"Waiotapu","flow":3.15,"nnn":1.6},{"river":"Waiotapu","flow":3.25,"nnn":1.0},{"river":"Waiotapu","flow":3.35,"nnn":1.35},{"river":"Waiotapu","flow":3.45,"nnn":1.55},{"river":"Waiotapu","flow":3.55,"nnn":1.25},{"river":"Waiotapu","flow":3.65,"nnn":1.4},{"river":"Waiotapu","flow":3.8,"nnn":1.1},{"river":"Waiotapu","flow":3.9,"nnn":1.5},{"river":"Waiotapu","flow":4.1,"nnn":1.25},{"river":"Waiotapu","flow":4.2,"nnn":1.7},{"river":"Waiotapu","flow":4.35,"nnn":1.05},{"river":"Waiotapu","flow":4.5,"nnn":1.3},{"river":"Waiotapu","flow":4.65,"nnn":1.45},{"river":"Waiotapu","flow":4.8,"nnn":1.1},{"river":"Waiotapu","flow":4.9,"nnn":1.6},{"river":"Waiotapu","flow":5.1,"nnn":1.4},{"river":"Waiotapu","flow":5.3,"nnn":1.2},{"river":"Waiotapu","flow":5.5,"nnn":1.35},{"river":"Waiotapu","flow":5.7,"nnn":1.6},{"river":"Waiotapu","flow":5.9,"nnn":1.45},{"river":"Waiotapu","flow":6.2,"nnn":1.7},{"river":"Waiotapu","flow":6.6,"nnn":1.45},{"river":"Waiotapu","flow":7.0,"nnn":1.6},{"river":"Waiotapu","flow":7.2,"nnn":1.85},{"river":"Waiotapu","flow":2.3,"nnn":0.85},{"river":"Waiotapu","flow":2.7,"nnn":0.85},{"river":"Waiotapu","flow":3.1,"nnn":0.9},{"river":"Waiotapu","flow":3.8,"nnn":0.85},{"river":"Waiotapu","flow":4.3,"nnn":0.92},{"river":"Waiotapu","flow":5.0,"nnn":0.95},{"river":"Waiotapu","flow":5.5,"nnn":1.0},{"river":"Waiotapu","flow":6.1,"nnn":1.0},{"river":"Waiotapu","flow":3.6,"nnn":1.75},{"river":"Waiotapu","flow":2.8,"nnn":1.7}
    ]
  },
  "encoding": {
    "x": {
      "field": "flow", "type": "quantitative",
      "scale": {"type": "log", "domain": [0.1, 100], "nice": false, "zero": false},
      "axis": {
        "values": [0.1,0.2,0.3,0.4,0.5,0.6,0.7,0.8,0.9,1,2,3,4,5,6,7,8,9,10,20,30,40,50,60,70,80,90,100],
        "labelExpr": "abs(log(datum.value)/LN10 - round(log(datum.value)/LN10)) < 0.000001 ? format(datum.value, '.2f') : ''",
        "gridOpacity": {"condition": {"test": "abs(log(datum.value)/LN10 - round(log(datum.value)/LN10)) < 0.000001", "value": 1}, "value": 0},
        "labelPadding": 26,
        "encode": {"ticks": {"update": {"y2": {"value": -7}}}},
        "title": "Flow (m³ s⁻¹)",
        "titleX": 496, "titleY": 85, "titleAlign": "center", "titleBaseline": "middle"
      }
    },
    "y": {
      "field": "nnn", "type": "quantitative",
      "scale": {"type": "log", "domain": [0.01, 10], "nice": false, "zero": false},
      "axis": {
        "values": [0.01,0.02,0.03,0.04,0.05,0.06,0.07,0.08,0.09,0.1,0.2,0.3,0.4,0.5,0.6,0.7,0.8,0.9,1,2,3,4,5,6,7,8,9,10],
        "labelExpr": "abs(log(datum.value)/LN10 - round(log(datum.value)/LN10)) < 0.000001 ? format(datum.value, '.2f') : ''",
        "gridOpacity": {"condition": {"test": "abs(log(datum.value)/LN10 - round(log(datum.value)/LN10)) < 0.000001", "value": 1}, "value": 0},
        "labelPadding": 24,
        "encode": {"ticks": {"update": {"x2": {"value": 7}}}},
        "title": "NNN (mg l⁻¹)",
        "titleX": -119, "titleY": 245, "titleAngle": -90, "titleAlign": "center", "titleBaseline": "middle"
      }
    }
  },
  "layer": [
    {
      "data": {"name": "points"},
      "mark": {"type": "point", "filled": true, "opacity": 1, "strokeWidth": 0},
      "encoding": {
        "color": {
          "field": "river", "type": "nominal",
          "scale": {"domain": ["Piako","Waitoa","Waihou","Pokaiwhenua","Waiotapu"], "range": ["#E46C0A","#5590D6","#77933C","#7030A0","#F43FC8"]},
          "legend": {
            "orient": "none", "legendX": 710, "legendY": 245, "title": null,
            "fillColor": "white", "padding": 10, "rowPadding": 17, "labelLimit": 0,
            "labelFont": "Open Sans", "labelFontSize": 25, "labelFontWeight": "bold",
            "symbolSize": 115, "symbolOffset": 13, "labelOffset": 3, "symbolStrokeWidth": 0,
            "encode": {"labels": {"update": {"fill": {"scale": "color", "field": "value"}}}}
          }
        },
        "shape": {
          "field": "river", "type": "nominal",
          "scale": {"domain": ["Piako","Waitoa","Waihou","Pokaiwhenua","Waiotapu"], "range": ["triangle-up","triangle-up","triangle-up","circle","circle"]}
        },
        "size": {"condition": {"test": "datum.river === 'Pokaiwhenua' || datum.river === 'Waiotapu'", "value": 110}, "value": 270}
      }
    },
    {
      "data": {"name": "trend"},
      "mark": {"type": "line", "color": "black", "strokeWidth": 3.5, "strokeDash": [11, 7]},
      "encoding": {"detail": {"field": "fit", "type": "nominal"}}
    }
  ]
}
